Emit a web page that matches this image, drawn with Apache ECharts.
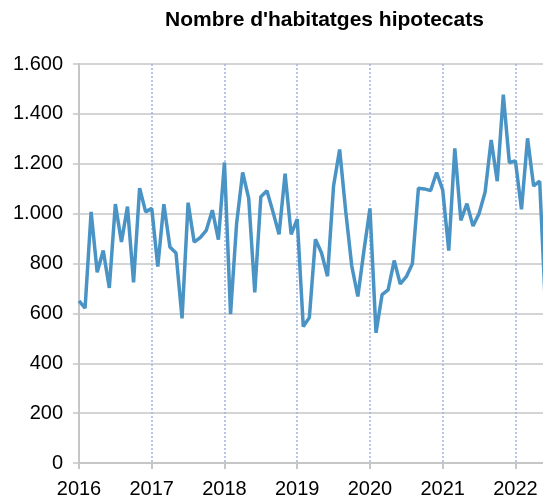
<!DOCTYPE html>
<html>
<head>
<meta charset="utf-8">
<script src="https://cdn.jsdelivr.net/npm/echarts@6/dist/echarts.min.js"></script>
<style>html,body{margin:0;padding:0;background:#fff}#c{width:543px;height:500px}</style>
</head>
<body>
<div id="c"></div>
<script>
var years = [2016, 2017, 2018, 2019, 2020, 2021, 2022];
var v2016 = [650, 621, 1007, 765, 852, 702, 1038, 886, 1028, 724, 1102, 1007];
var v2017 = [1021, 788, 1038, 866, 842, 580, 1044, 886, 904, 933, 1014, 896];
var v2018 = [1205, 597, 960, 1165, 1061, 684, 1068, 1092, 1007, 917, 1160, 917];
var v2019 = [978, 547, 583, 897, 843, 749, 1112, 1257, 1010, 790, 668, 850];
var v2020 = [1021, 522, 675, 694, 812, 718, 747, 799, 1102, 1099, 1092, 1165];
var v2021 = [1095, 852, 1262, 973, 1040, 950, 1000, 1087, 1295, 1130, 1477, 1205];
var v2022 = [1211, 1017, 1302, 1111, 1130, 600];
var yTicks = [0, 200, 400, 600, 800, 1000, 1200, 1400, 1600];

var yearVals = [v2016, v2017, v2018, v2019, v2020, v2021, v2022];
var pts = [];
yearVals.forEach(function (arr, yi) {
  arr.forEach(function (v, m) {
    pts.push([yi * 12 + m, v]);
  });
});

var FONT = 'Liberation Sans, Arial, sans-serif';
var chart = echarts.init(document.getElementById('c'), null, {renderer: 'canvas'});
chart.setOption({
  animation: false,
  title: {
    text: "Nombre d'habitatges hipotecats",
    left: 160, top: 5,
    textStyle: {fontFamily: FONT, fontSize: 21, fontWeight: 'bold', color: '#000'}
  },
  grid: {left: 79, right: 0, top: 64, bottom: 37, containLabel: false},
  xAxis: {
    type: 'value',
    min: 0, max: 76.55, interval: 12,
    axisLine: {show: true, onZero: false, lineStyle: {color: '#c6c6c6', width: 2}},
    axisTick: {show: true, length: 6, lineStyle: {color: '#c6c6c6', width: 2}},
    axisLabel: {show: true, margin: 16, fontFamily: FONT, fontSize: 20, color: '#000',
      showMaxLabel: false,
      formatter: function (v) { return v % 12 === 0 ? String(years[0] + v / 12) : ''; }},
    splitLine: {show: true, showMinLine: false, showMaxLine: false,
      lineStyle: {color: '#9fb3e6', width: 1.5, type: [2, 2]}}
  },
  yAxis: {
    type: 'value',
    min: yTicks[0], max: yTicks[yTicks.length - 1], interval: 200,
    axisLine: {show: true, lineStyle: {color: '#c6c6c6', width: 2}},
    axisTick: {show: true, length: 6, lineStyle: {color: '#c6c6c6', width: 1.5}},
    axisLabel: {margin: 16, fontFamily: FONT, fontSize: 20, color: '#000',
      formatter: function (v) { return String(v).replace(/\B(?=(\d{3})+(?!\d))/g, '.'); }},
    splitLine: {show: true, lineStyle: {color: '#c6c6c6', width: 1.5}}
  },
  series: [{
    type: 'line',
    data: pts,
    symbol: 'none',
    lineStyle: {color: '#4a93c5', width: 3.5},
    clip: true
  }]
});
</script>
</body>
</html>
